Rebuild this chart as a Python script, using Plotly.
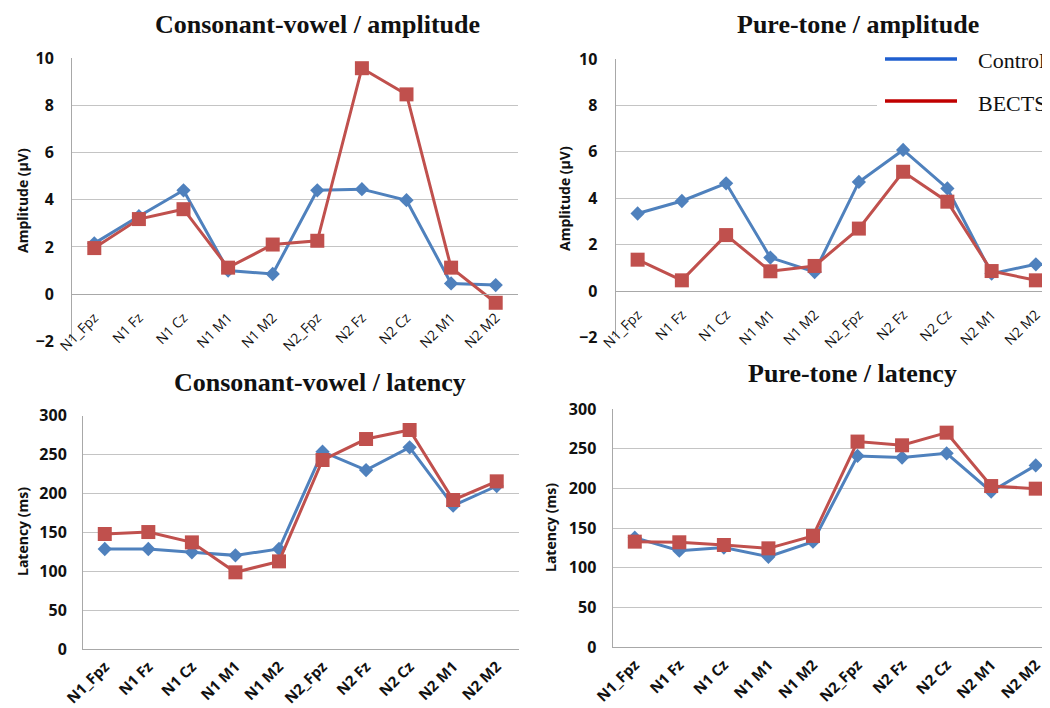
import plotly.graph_objects as go

W, H = 1050, 708
OFF = 8  # page body margin offset of the rendered figure

categories = ["N1_Fpz", "N1 Fz", "N1 Cz", "N1 M1", "N1 M2",
              "N2_Fpz", "N2 Fz", "N2 Cz", "N2 M1", "N2 M2"]

cv_amp_control = [2.15, 3.3, 4.4, 1.0, 0.85, 4.4, 4.45, 3.98, 0.45, 0.38]
cv_amp_bects = [1.95, 3.18, 3.6, 1.12, 2.1, 2.26, 9.58, 8.47, 1.12, -0.37]

pt_amp_control = [3.34, 3.88, 4.64, 1.44, 0.82, 4.7, 6.08, 4.42, 0.75, 1.15]
pt_amp_bects = [1.35, 0.46, 2.41, 0.85, 1.08, 2.69, 5.14, 3.85, 0.86, 0.46]

cv_lat_control = [128.6, 128.6, 124.3, 120.4, 128.6, 253.7, 230.1, 259.3, 184.3, 209.6]
cv_lat_bects = [147.9, 150.4, 137.1, 98.6, 112.7, 243.0, 270.0, 281.6, 191.6, 215.6]

pt_lat_control = [138.0, 121.7, 125.5, 114.0, 133.0, 240.9, 238.8, 244.2, 196.0, 229.0]
pt_lat_bects = [133.0, 132.2, 128.8, 124.6, 140.2, 259.0, 254.3, 270.2, 203.0, 199.7]

titles = ["Consonant-vowel / amplitude", "Pure-tone / amplitude",
          "Consonant-vowel / latency", "Pure-tone / latency"]
ytitles = ["Amplitude (µV)", "Amplitude (µV)", "Latency (ms)", "Latency (ms)"]
series_names = ["Control", "BECTS"]

BLUE = "#4F81BD"
RED = "#C0504D"
GRID = "#C4C4C4"
AXL = "#A8A8A8"


def px(x):
    return min(1.0, max(0.0, (x - OFF) / W))


def py(y):
    return min(1.0, max(0.0, 1 - (y - OFF) / H))


panels = [
    dict(c=cv_amp_control, b=cv_amp_bects, xd=(72, 518), yd=(341.2, 58.3),
         xr=[-0.5, 9.5], yr=[-2, 10], dt=2, x0=294, ts=(317, 25), yt=(22, 201), stand=14,
         xf=dict(size=14, weight="normal"), xl=9),
    dict(c=pt_amp_control, b=pt_amp_bects, xd=(615.5, 1058), yd=(337.4, 59),
         xr=[-0.5, 9.5], yr=[-2, 10], dt=2, x0=291, ts=(858, 25), yt=(564, 199), stand=14,
         xf=dict(size=14, weight="normal"), xl=9),
    dict(c=cv_lat_control, b=cv_lat_bects, xd=(83, 518.5), yd=(649, 415.7),
         xr=[-0.5, 9.5], yr=[0, 300], dt=50, x0=None, ts=(320, 382), yt=(22, 532), stand=12,
         xf=dict(size=15, weight="bold"), xl=2),
    dict(c=pt_lat_control, b=pt_lat_bects, xd=(612.5, 1058), yd=(647.3, 409),
         xr=[-0.5, 9.5], yr=[0, 300], dt=50, x0=None, ts=(852, 374), yt=(550, 528), stand=12,
         xf=dict(size=15, weight="bold"), xl=2),
]

fig = go.Figure()
layout = dict(
    width=W, height=H, margin=dict(l=0, r=0, t=0, b=0, autoexpand=False),
    paper_bgcolor="white", plot_bgcolor="white", showlegend=False,
)
annotations = []
shapes = []

for i, p in enumerate(panels, start=1):
    xa = "x" if i == 1 else f"x{i}"
    ya = "y" if i == 1 else f"y{i}"
    xs = list(range(len(categories)))
    fig.add_trace(go.Scatter(
        x=xs, y=p["c"], mode="lines+markers", name=series_names[0],
        line=dict(color=BLUE, width=3),
        marker=dict(symbol="diamond", size=11, color=BLUE),
        xaxis=xa, yaxis=ya, cliponaxis=False))
    fig.add_trace(go.Scatter(
        x=xs, y=p["b"], mode="lines+markers", name=series_names[1],
        line=dict(color=RED, width=3),
        marker=dict(symbol="square", size=14, color=RED),
        xaxis=xa, yaxis=ya, cliponaxis=False))

    xkey = "xaxis" if i == 1 else f"xaxis{i}"
    ykey = "yaxis" if i == 1 else f"yaxis{i}"
    xax = dict(
        domain=[px(p["xd"][0]), px(p["xd"][1])],
        range=p["xr"], tickmode="array", tickvals=xs, ticktext=categories,
        tickangle=-45, showgrid=False, zeroline=False,
        showline=True, linecolor=AXL, linewidth=1, automargin=False,
        ticks="outside", ticklen=p["xl"], tickcolor="rgba(0,0,0,0)",
        tickfont=dict(family="Open Sans", color="#111", **p["xf"]),
        fixedrange=True,
    )
    if p["x0"] is not None:
        xax.update(anchor="free", position=py(p["x0"]))
    else:
        xax.update(anchor=ya)
    layout[xkey] = xax
    layout[ykey] = dict(
        domain=[py(p["yd"][0]), py(p["yd"][1])],
        range=p["yr"], dtick=p["dt"], tick0=0, automargin=False,
        showgrid=True, gridcolor=GRID, gridwidth=1, zeroline=False,
        showline=True, linecolor=AXL, linewidth=1, anchor=xa,
        ticks="outside", ticklen=p["stand"], tickcolor="rgba(0,0,0,0)",
        tickfont=dict(family="Open Sans", size=16, weight="bold", color="#111"),
        fixedrange=True,
    )
    annotations.append(dict(
        text="<b>" + titles[i - 1] + "</b>", x=px(p["ts"][0]), y=py(p["ts"][1]),
        xref="paper", yref="paper", xanchor="center", yanchor="middle",
        showarrow=False, font=dict(family="Liberation Serif", size=26, color="#111")))
    annotations.append(dict(
        text="<b>" + ytitles[i - 1] + "</b>", x=px(p["yt"][0]), y=py(p["yt"][1]),
        xref="paper", yref="paper", xanchor="center", yanchor="middle",
        textangle=-90, showarrow=False,
        font=dict(family="Open Sans", size=14, color="#111")))

# legend (in top-right panel)
shapes.append(dict(type="rect", xref="paper", yref="paper",
                   x0=px(877), x1=1.0, y0=py(118), y1=py(46),
                   fillcolor="white", line=dict(width=0), layer="above"))
leg_colors = ["#1F5FCF", "#C00000"]
leg_y = [59, 101]
for name, col, yy in zip(series_names, leg_colors, leg_y):
    shapes.append(dict(type="line", xref="paper", yref="paper",
                       x0=px(885), x1=px(957), y0=py(yy), y1=py(yy),
                       line=dict(color=col, width=3.5), layer="above"))
    annotations.append(dict(
        text=name, x=px(976), y=py(yy + 2), xref="paper", yref="paper",
        xanchor="left", yanchor="middle", showarrow=False,
        font=dict(family="Liberation Serif", size=22, color="#111")))

layout["annotations"] = annotations
layout["shapes"] = shapes
fig.update_layout(**layout)
fig.write_html("out.html")
